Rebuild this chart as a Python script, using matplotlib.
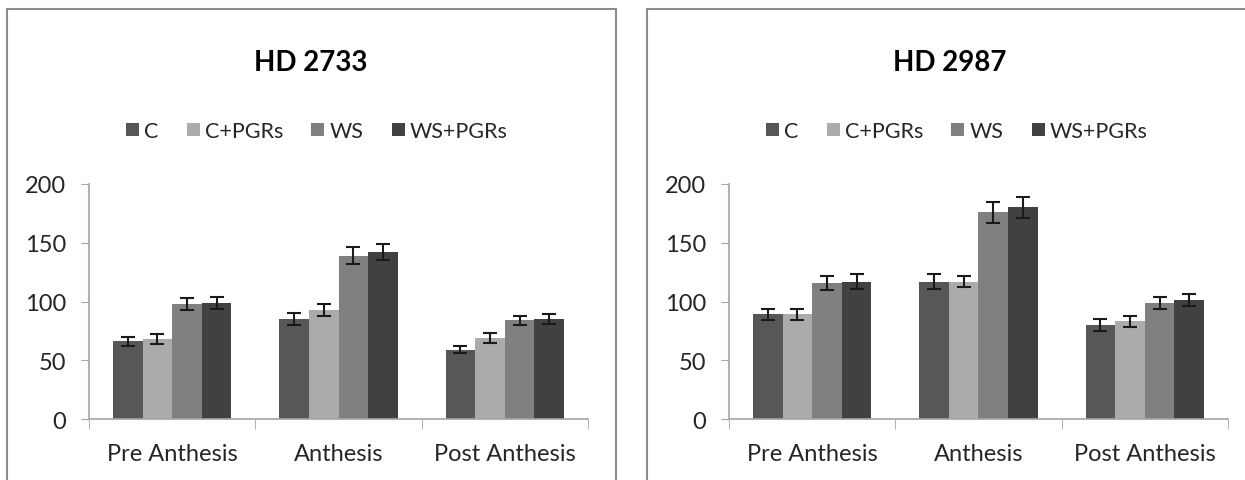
import numpy as np
import matplotlib.pyplot as plt
from matplotlib.patches import Rectangle

stages = ["Pre Anthesis", "Anthesis", "Post Anthesis"]
treatments = ["C", "C+PGRs", "WS", "WS+PGRs"]
colors = ["#575757", "#ababab", "#808080", "#414141"]

# values per treatment across stages
hd2733 = [[66, 85, 59], [68, 93, 69], [98, 139, 84], [99, 142, 85]]
hd2733_err = [[4, 5, 3], [4, 5, 4], [5, 7, 4], [5, 7, 4]]
hd2987 = [[89, 117, 80], [89, 117, 83], [116, 176, 99], [117, 180, 101]]
hd2987_err = [[5, 6, 5], [5, 5, 5], [6, 9, 5], [6, 9, 5]]

plt.rcParams['font.family'] = ['Lato', 'DejaVu Sans']

fig = plt.figure(figsize=(12.45, 4.81), dpi=100)

# panel frames
W, H = 1245, 481
for x0, x1 in [(7, 616), (647, 1252)]:
    fig.patches.append(Rectangle((x0 / W, -0.01), (x1 - x0) / W, 1.01 - 10 / H,
                                 transform=fig.transFigure, fill=False,
                                 edgecolor="#8c8c8c", linewidth=1.5))


def panel(rect, title, vals, errs, cx, lx):
    ax = fig.add_axes(rect)
    x = np.arange(len(stages))
    w = 0.178
    for i, (v, e) in enumerate(zip(vals, errs)):
        ax.bar(x + (i - 1.5) * w, v, w, color=colors[i], label=treatments[i],
               yerr=e, capsize=5, error_kw=dict(ecolor="#1a1a1a", elinewidth=1.5, capthick=1.5))
    ax.set_xlim(-0.5, 2.5)
    ax.set_ylim(0, 200)
    ax.set_yticks([0, 50, 100, 150, 200])
    ax.set_xticks(x)
    ax.set_xticklabels(stages)
    ax.set_xticks([-0.5, 0.5, 1.5, 2.5], minor=True)
    ax.tick_params(axis='x', which='major', length=0, pad=17, labelsize=17, colors="#262626")
    ax.tick_params(axis='x', which='minor', length=7, color="#b0a098", direction='out')
    ax.tick_params(axis='y', length=5.5, color="#b0a098", labelsize=17, pad=11, labelcolor="#262626")
    for s in ["top", "right"]:
        ax.spines[s].set_visible(False)
    for s in ["left", "bottom"]:
        ax.spines[s].set_color("#b0a098")
        ax.spines[s].set_linewidth(1.2)
    fig.text(cx, 0.869, title, ha="center", va="center", fontsize=20, fontweight="bold")
    fig.legend(*ax.get_legend_handles_labels(), loc="center", bbox_to_anchor=(lx, 0.7256),
               ncol=4, frameon=False, fontsize=15.5, handlelength=0.6, handleheight=0.6,
               handletextpad=0.25, columnspacing=1.3, labelcolor="#262626")
    return ax


panel([0.0715, 0.1268, 0.4008, 0.4886], "HD 2733", hd2733, hd2733_err, 311 / W, 317 / W)
panel([0.5855, 0.1268, 0.4008, 0.4886], "HD 2987", hd2987, hd2987_err, 950 / W, 957 / W)

fig.savefig("out.png", dpi=100)
